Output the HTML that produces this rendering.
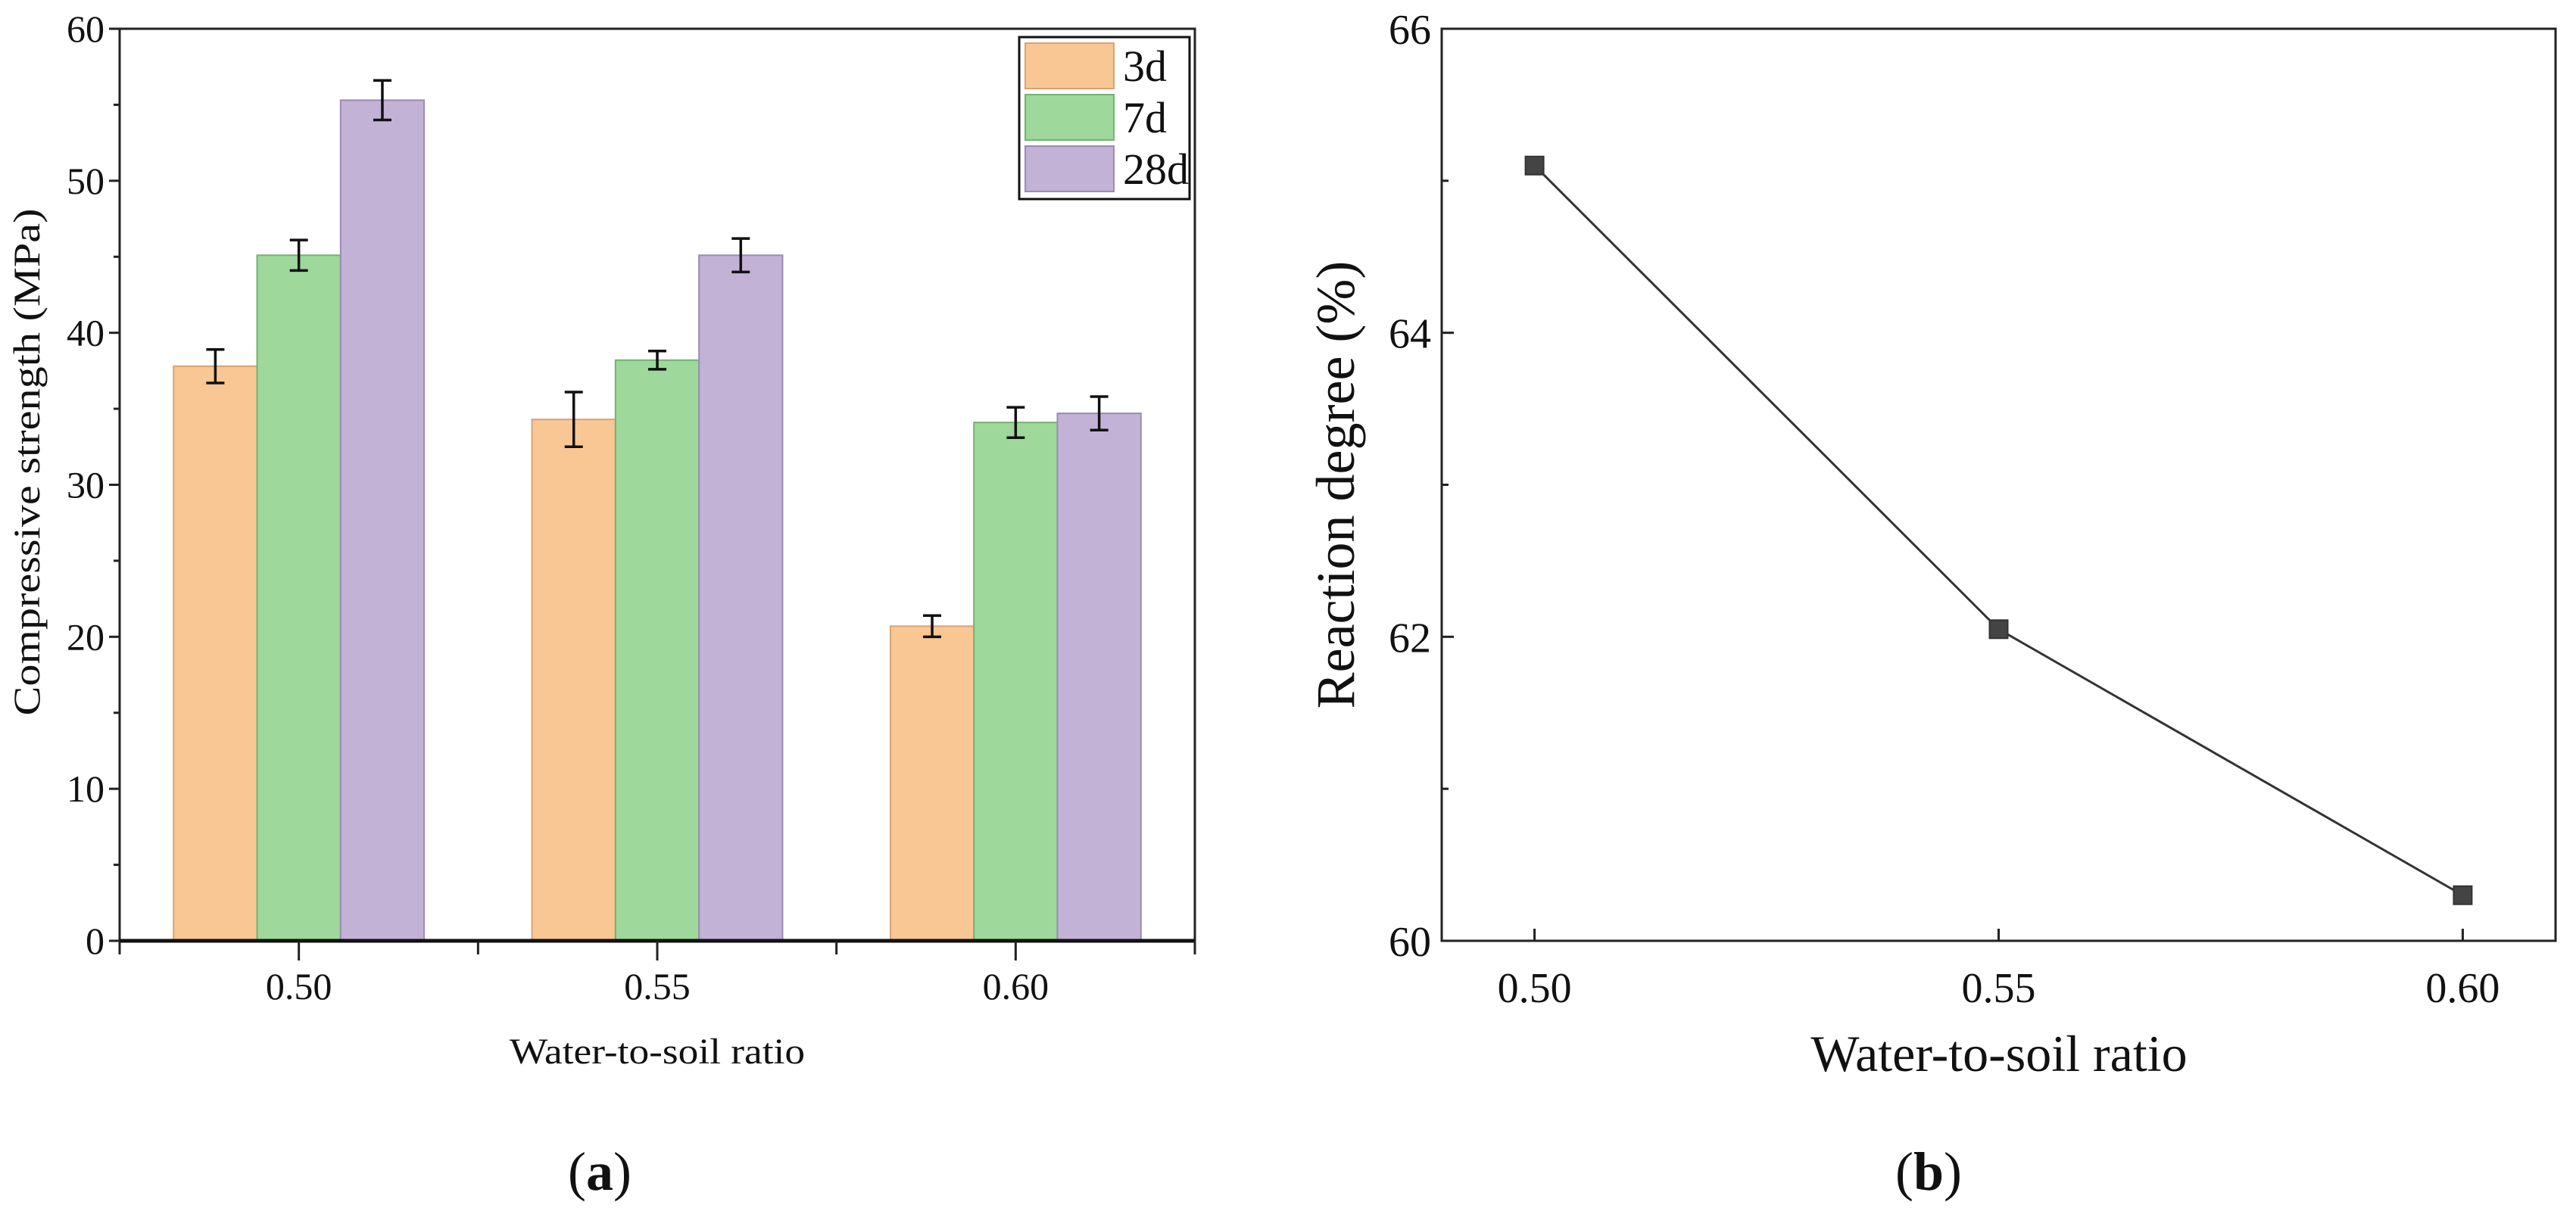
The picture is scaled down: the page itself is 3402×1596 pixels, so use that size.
<!DOCTYPE html>
<html><head><meta charset="utf-8"><style>
html,body{margin:0;padding:0;background:#fff}
svg{display:block}
text{font-family:"Liberation Serif",serif;fill:#111}
</style></head><body>
<svg id="chart" width="3402" height="1596" viewBox="0 0 3402 1596" xmlns="http://www.w3.org/2000/svg">
<g id="pa"></g>
<g id="pb"></g>
</svg>
<script>
const catsA = ["0.50","0.55","0.60"];
const catValsA = [0.50,0.55,0.60];
const seriesNames = ["3d","7d","28d"];
const vals3d = [37.8,34.3,20.7];
const vals7d = [45.1,38.2,34.1];
const vals28d = [55.3,45.1,34.7];
const err3d = [1.1,1.8,0.7];
const err7d = [1.0,0.6,1.0];
const err28d = [1.3,1.1,1.1];
const yTicksA = [0,10,20,30,40,50,60];
const xB = [0.50,0.55,0.60];
const xLabelsB = ["0.50","0.55","0.60"];
const valsB = [65.1,62.05,60.3];
const yTicksB = [60,62,64,66];

const NS="http://www.w3.org/2000/svg";
function mk(parent,tag,attrs,txt){const e=document.createElementNS(NS,tag);for(const k in attrs)e.setAttribute(k,attrs[k]);if(txt!==undefined)e.textContent=txt;parent.appendChild(e);return e;}

// ---------- Panel A ----------
const A=document.getElementById('pa');
const aL=158,aR=1578,aT=38,aB=1243;
const xa=v=>aL+(v-0.475)/(0.625-0.475)*(aR-aL);
const ya=v=>aB-(v/60)*(aB-aT);
const fills=["#F9C794","#9ED89B","#C2B2D6"];
const strokes=["#D9A274","#74B271","#9A8BB3"];
const vals=[vals3d,vals7d,vals28d], errs=[err3d,err7d,err28d];
const bw=(xa(0.55)-xa(0.50))*0.233;
for(let s=0;s<3;s++){
  for(let i=0;i<catValsA.length;i++){
    const cx=xa(catValsA[i])+(s-1)*bw;
    const r=mk(A,'rect',{x:cx-bw/2,y:ya(vals[s][i]),width:bw,height:ya(0)-ya(vals[s][i]),fill:fills[s],stroke:strokes[s],'stroke-width':2});
    
    
    const e=mk(A,'path',{d:`M${cx},${ya(vals[s][i]+errs[s][i])}V${ya(vals[s][i]-errs[s][i])}M${cx-12},${ya(vals[s][i]+errs[s][i])}h24M${cx-12},${ya(vals[s][i]-errs[s][i])}h24`,stroke:'#111','stroke-width':3.5,fill:'none'});
    
    
  }
}
const fa=mk(A,'rect',{x:aL,y:aT,width:aR-aL,height:aB-aT,fill:'none',stroke:'#222','stroke-width':3});


mk(A,'line',{x1:aL,x2:aR,y1:aB,y2:aB,stroke:'#111','stroke-width':5});
yTicksA.forEach(t=>{
  mk(A,'line',{x1:aL-14,x2:aL,y1:ya(t),y2:ya(t),stroke:'#222','stroke-width':3});
  if(t<60) mk(A,'line',{x1:aL-8,x2:aL,y1:ya(t+5),y2:ya(t+5),stroke:'#222','stroke-width':3});
  const tl=mk(A,'text',{x:aL-20,y:ya(t)+17,'text-anchor':'end','font-size':50},t);
  
  
});
[0.475,0.525,0.575,0.625].forEach(v=>mk(A,'line',{x1:xa(v),x2:xa(v),y1:aB,y2:aB+18,stroke:'#222','stroke-width':3}));
catValsA.forEach((v,i)=>{
  mk(A,'line',{x1:xa(v),x2:xa(v),y1:aB,y2:aB+26,stroke:'#222','stroke-width':3});
  const tl=mk(A,'text',{x:xa(v),y:1320,'text-anchor':'middle','font-size':50},catsA[i]);
  
  
});
const xta=mk(A,'text',{x:868,y:1405,'text-anchor':'middle','font-size':48,textLength:390,lengthAdjust:'spacingAndGlyphs'},'Water-to-soil ratio');


const yta=mk(A,'text',{x:0,y:0,'text-anchor':'middle','font-size':50,textLength:670,lengthAdjust:'spacingAndGlyphs',transform:`translate(52,${(aT+aB)/2-30}) rotate(-90)`},'Compressive strength (MPa)');


const lg=mk(A,'g',{});


mk(lg,'rect',{x:1346,y:49,width:225,height:214,fill:'#fff',stroke:'#111','stroke-width':3});
seriesNames.forEach((n,s)=>{
  const y0=57+s*68;
  const sw=mk(lg,'rect',{x:1354,y:y0,width:117,height:60,fill:fills[s],stroke:strokes[s],'stroke-width':2});
  
  
  const lt=mk(lg,'text',{x:1483,y:y0+50,'font-size':58},n);
  
  
});
const ca=mk(A,'text',{x:792,y:1572,'text-anchor':'middle','font-size':72});


ca.innerHTML='(<tspan font-weight="bold">a</tspan>)';

// ---------- Panel B ----------
const B=document.getElementById('pb');
const bL=1904,bR=3375,bT=38,bB=1243;
const xb=v=>bL+(v-0.49)/(0.61-0.49)*(bR-bL);
const yb=v=>bB-(v-60)/6*(bB-bT);
const fb=mk(B,'rect',{x:bL,y:bT,width:bR-bL,height:bB-bT,fill:'none',stroke:'#222','stroke-width':3});


yTicksB.forEach(t=>{
  mk(B,'line',{x1:bL,x2:bL+16,y1:yb(t),y2:yb(t),stroke:'#222','stroke-width':3});
  if(t<66) mk(B,'line',{x1:bL,x2:bL+9,y1:yb(t+1),y2:yb(t+1),stroke:'#222','stroke-width':3});
  const tl=mk(B,'text',{x:bL-14,y:yb(t)+20,'text-anchor':'end','font-size':56},t);
  
  
});
xB.forEach((v,i)=>{
  mk(B,'line',{x1:xb(v),x2:xb(v),y1:bB,y2:bB-16,stroke:'#222','stroke-width':3});
  const tl=mk(B,'text',{x:xb(v),y:1324,'text-anchor':'middle','font-size':56},xLabelsB[i]);
  
  
});
const ln=mk(B,'polyline',{points:xB.map((v,i)=>xb(v)+','+yb(valsB[i])).join(' '),fill:'none',stroke:'#333','stroke-width':3});


xB.forEach((v,i)=>{
  const p=mk(B,'rect',{x:xb(v)-12,y:yb(valsB[i])-12,width:24,height:24,fill:'#444',stroke:'#333','stroke-width':2});
  
  
});
const xtb=mk(B,'text',{x:2640,y:1415,'text-anchor':'middle','font-size':68},'Water-to-soil ratio');


const ytb=mk(B,'text',{x:0,y:0,'text-anchor':'middle','font-size':72,transform:`translate(1788,${(bT+bB)/2}) rotate(-90)`},'Reaction degree (%)');


const cb=mk(B,'text',{x:2547,y:1572,'text-anchor':'middle','font-size':72});


cb.innerHTML='(<tspan font-weight="bold">b</tspan>)';
</script>
</body></html>
